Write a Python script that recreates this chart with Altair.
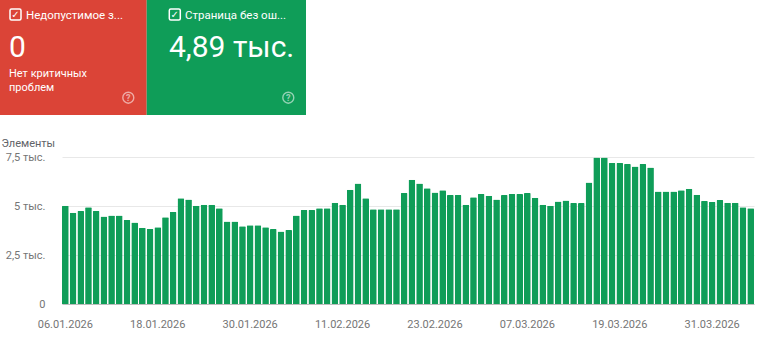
import altair as alt
import pandas as pd

# ---- data ----
dates = [d.strftime("%d.%m.%Y") for d in pd.date_range("2026-01-06", periods=90, freq="D")]
elements = [
    5010, 4650, 4740, 4930, 4740, 4470, 4520, 4520, 4280, 4160, 3890, 3830, 3920, 4430, 4700,
    5390, 5330, 5010, 5060, 5060, 4890, 4210, 4210, 3970, 4020, 4020, 3920, 3830, 3700, 3770,
    4520, 4790, 4790, 4890, 4890, 5160, 5060, 5830, 6150, 5390, 4840, 4840, 4840, 4840, 5660,
    6340, 6150, 5910, 5690, 5800, 5560, 5560, 5060, 5450, 5610, 5520, 5330, 5560, 5610, 5610,
    5660, 5420, 5060, 5010, 5230, 5280, 5150, 5150, 6200, 7470, 7470, 7190, 7190, 7140, 7020,
    7140, 6970, 5740, 5740, 5740, 5800, 5880, 5570, 5250, 5200, 5300, 5160, 5160, 4940, 4890,
]
x_tick_labels = dates[::12]
y_ticks = [0, 2500, 5000, 7500]
axis_title = "Элементы"

card_titles = ["Недопустимое з...", "Страница без ош..."]
card_values = ["0", "4,89 тыс."]
card_notes = ["Нет критичных", "проблем"]

df = pd.DataFrame({"date": dates, "value": elements})

# ---- styling ----
FONT = "Roboto"
RED = "#DB4437"
GREEN = "#0F9D58"
OX, OY = 50, 157  # plot-area origin on the page


def px(x):
    return alt.value(x - OX)


def py(y):
    return alt.value(y - OY)


def one():
    return alt.Data(values=[{"k": 1}])


def rect(x1, x2, y1, y2, **kw):
    return alt.Chart(one()).mark_rect(**kw).encode(
        x=px(x1), x2=px(x2), y=py(y1), y2=py(y2)
    )


def text(s, x, y, size, **kw):
    opts = dict(font=FONT, align="left", baseline="alphabetic", color="white", fontSize=size)
    opts.update(kw)
    return alt.Chart(one()).mark_text(**opts).encode(x=px(x), y=py(y), text=alt.value(s))


def checkbox(x):
    box = rect(x, x + 11, 9, 20, filled=False, stroke="white", strokeWidth=1.5, cornerRadius=1.5)
    tick = text("✓", x + 5.5, 14.8, 10, align="center", baseline="middle",
                font="DejaVu Sans", fontWeight="bold")
    return [box, tick]


def help_icon(x, y):
    circ = alt.Chart(one()).mark_point(
        shape="circle", filled=False, size=120, strokeWidth=1.4,
        stroke="white", opacity=0.55
    ).encode(x=px(x), y=py(y))
    q = text("?", x, y + 0.5, 9, align="center", baseline="middle",
             fontWeight="bold", opacity=0.55)
    return [circ, q]


layers = []
# red card
layers.append(rect(0, 146.7, 0, 115, color=RED))
layers += checkbox(10)
layers.append(text(card_titles[0], 26, 19.4, 11.5))
layers.append(text(card_values[0], 9, 57, 30))
layers.append(text(card_notes[0], 9, 76.5, 11))
layers.append(text(card_notes[1], 9, 90.7, 11))
layers += help_icon(128.3, 97.7)
# green card
layers.append(rect(146.7, 306, 0, 115, color=GREEN))
layers += checkbox(169.3)
layers.append(text(card_titles[1], 185, 19.4, 11.5))
layers.append(text(card_values[1], 169, 57, 30))
layers += help_icon(288.3, 97.7)

label_expr = (
    "datum.value == 0 ? '0' : "
    "replace(toString(datum.value / 1000), '.', ',') + ' тыс.'"
)

bars = alt.Chart(df).mark_bar(
    color=GREEN, cornerRadiusTopLeft=1, cornerRadiusTopRight=1
).encode(
    x=alt.X(
        "date:N", sort=dates,
        scale=alt.Scale(range=[12, 704], paddingInner=0.13, paddingOuter=0),
        axis=alt.Axis(
            values=x_tick_labels, labelAngle=0, ticks=False, tickSize=0,
            labelPadding=14, labelFontSize=11, labelColor="#757575", labelFont=FONT,
            labelOverlap=False, labelFlush=False,
            domainColor="#bdbdbd", grid=False, title=None,
        ),
    ),
    y=alt.Y(
        "value:Q",
        scale=alt.Scale(domain=[0, 7500], nice=False),
        axis=alt.Axis(
            values=y_ticks, labelExpr=label_expr, domain=False, ticks=False, tickSize=0,
            labelPadding=5, labelFontSize=11, labelColor="#757575", labelFont=FONT,
            gridColor="#e8e8e8", title=axis_title, titleAngle=0, titleX=-49, titleY=-14,
            titleAlign="left", titleBaseline="middle", titleFontWeight="normal",
            titleFontSize=11, titleColor="#5f6368", titleFont=FONT,
        ),
    ),
)

chart = alt.layer(bars, *layers).properties(
    width=716,
    height=147,
    padding={"left": 50, "top": 157, "right": 2, "bottom": 34},
    autosize=alt.AutoSizeParams(type="none"),
    background="white",
).configure_view(stroke=None)

chart.save("out.html", embed_options={"renderer": "svg", "actions": False})
